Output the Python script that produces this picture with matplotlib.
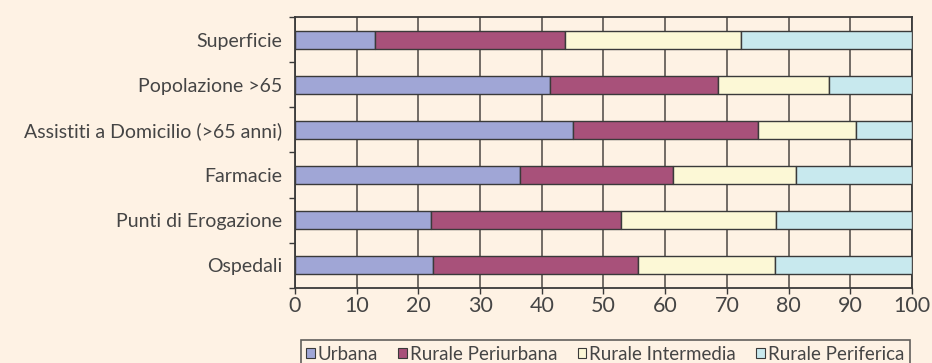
import matplotlib.pyplot as plt
import numpy as np

# share (%) of each indicator by area type
categories = ["Superficie", "Popolazione >65", "Assistiti a Domicilio (>65 anni)",
              "Farmacie", "Punti di Erogazione", "Ospedali"]
series = ["Urbana", "Rurale Periurbana", "Rurale Intermedia", "Rurale Periferica"]
urbana = [13.0, 41.3, 45.1, 36.4, 22.0, 22.3]
periurbana = [30.7, 27.3, 30.0, 24.8, 30.9, 33.3]
intermedia = [28.6, 17.9, 15.9, 20.0, 25.1, 22.2]
periferica = [27.7, 13.5, 9.0, 18.8, 22.0, 22.2]
xticks = [0, 10, 20, 30, 40, 50, 60, 70, 80, 90, 100]

colors = ["#a0a6d6", "#a8517a", "#fcf8d6", "#c8e9ee"]
bg = "#fef2e4"
edge = "#3a3a3a"
txt = "#454545"

plt.rcParams['font.family'] = ['Lato', 'DejaVu Sans']

fig = plt.figure(figsize=(9.32, 3.63), dpi=100, facecolor=bg)
ax = fig.add_axes([0.3165, 0.207, 0.662, 0.746])
ax.set_facecolor(bg)

y = np.arange(len(categories))
left = np.zeros(len(categories))
for name, vals, c in zip(series, [urbana, periurbana, intermedia, periferica], colors):
    ax.barh(y, vals, left=left, height=0.4, color=c, edgecolor=edge,
            linewidth=1.0, label=name, zorder=3)
    left += np.array(vals)

ax.set_xlim(0, 100)
ax.set_ylim(len(categories) - 0.5, -0.5)
ax.set_xticks(xticks)
ax.set_xticklabels([str(v) for v in xticks], fontsize=15.5, color=txt)
ax.set_yticks(y)
ax.set_yticklabels(categories, fontsize=14, color=txt)
ax.set_yticks(np.arange(len(categories) + 1) - 0.5, minor=True)
ax.tick_params(axis='y', which='major', length=0, pad=9)
ax.tick_params(axis='y', which='minor', length=4, width=1, color=edge)
ax.tick_params(axis='x', length=4, width=1, color=edge, pad=2)
ax.grid(axis='x', color="#5a5450", linewidth=1.2, zorder=1)
for s in ax.spines.values():
    s.set_color(edge)
    s.set_linewidth(1.3)

leg = fig.legend(loc='lower left', bbox_to_anchor=(0.3165, -0.03, 0.665, 0.1),
                 ncol=4, frameon=True, fancybox=False,
                 handlelength=0.45, handleheight=0.45, handletextpad=0.15,
                 columnspacing=1.1, borderpad=0.3, borderaxespad=0.3,
                 prop={'size': 13.5})
leg.get_frame().set_edgecolor(edge)
leg.get_frame().set_facecolor(bg)
leg.get_frame().set_linewidth(1.2)
for t in leg.get_texts():
    t.set_color(txt)
for h in leg.legend_handles:
    h.set_linewidth(0.8)

fig.savefig("out.png", dpi=100, facecolor=bg)
